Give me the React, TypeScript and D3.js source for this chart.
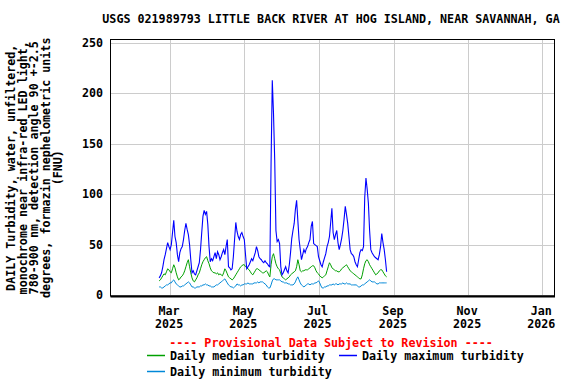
import * as d3 from "d3";

// daily values, first day 2025-02-20
const startDate = new Date(2025, 1, 20);

const maxTurbidity = [
  17, 19, 22, 28, 35, 40, 46, 52, 48, 45, 50, 62, 74, 58, 52, 40, 33, 42, 46, 48,
  55, 64, 71, 65, 60, 50, 35, 22, 24, 21, 20, 24, 28, 32, 45, 62, 78, 84, 80, 83,
  70, 48, 33, 36, 34, 38, 42, 36, 43, 40, 35, 38, 42, 45, 40, 48, 55, 28, 27, 25,
  26, 38, 55, 72, 63, 58, 55, 60, 62, 58, 55, 40, 26, 28, 30, 33, 36, 34, 38, 42,
  48, 44, 38, 36, 35, 33, 32, 34, 32, 31, 29, 28, 131, 213, 180, 134, 64, 53, 55, 51,
  28, 20, 22, 25, 28, 24, 22, 30, 42, 56, 64, 71, 85, 94, 74, 55, 45, 35, 40, 45,
  42, 46, 48, 52, 55, 68, 73, 51, 50, 49, 48, 38, 34, 30, 28, 33, 37, 41, 48, 52,
  58, 72, 86, 62, 55, 60, 64, 52, 45, 50, 56, 64, 75, 88, 80, 71, 58, 45, 41, 40,
  38, 33, 30, 28, 35, 42, 45, 44, 48, 97, 116, 105, 91, 64, 45, 42, 40, 38, 37, 36,
  35, 40, 48, 61, 52, 45, 35, 23,
];

const medianTurbidity = [
  14, 15, 17, 19, 21, 20, 23, 26, 25, 23, 22, 26, 30, 27, 22, 18, 15, 16, 18, 19,
  21, 24, 28, 32, 35, 28, 22, 17, 14, 13, 15, 17, 20, 22, 26, 30, 33, 35, 37, 38,
  34, 31, 27, 24, 23, 22, 22, 21, 22, 20, 21, 20, 19, 22, 26, 24, 21, 18, 17, 16,
  15, 16, 18, 20, 22, 24, 26, 28, 29, 30, 30, 28, 27, 26, 25, 23, 21, 20, 22, 24,
  26, 26, 25, 24, 23, 22, 22, 23, 24, 23, 20, 18, 30, 38, 41, 36, 31, 28, 26, 25,
  21, 18, 17, 16, 15, 16, 17, 18, 20, 21, 22, 23, 24, 28, 35, 30, 24, 23, 24, 24,
  25, 25, 25, 26, 27, 28, 29, 29, 27, 24, 22, 21, 19, 18, 17, 18, 19, 20, 24, 28,
  32, 30, 27, 26, 25, 24, 24, 23, 23, 24, 26, 27, 28, 29, 30, 28, 26, 24, 23, 22,
  21, 20, 19, 18, 17, 16, 16, 20, 26, 31, 34, 35, 33, 30, 28, 26, 24, 22, 20, 21,
  22, 24, 25, 25, 23, 21, 19, 18,
];

const minTurbidity = [
  8, 8, 7, 7, 8, 9, 10, 10, 11, 12, 12, 14, 15, 13, 11, 10, 9, 8, 8, 9,
  9, 10, 11, 12, 13, 12, 10, 8, 8, 7, 7, 8, 8, 8, 9, 9, 10, 10, 11, 10,
  10, 9, 9, 8, 8, 8, 9, 10, 10, 11, 12, 13, 14, 15, 16, 14, 12, 10, 9, 8,
  8, 7, 8, 9, 11, 10, 10, 9, 10, 10, 11, 11, 11, 12, 11, 11, 11, 11, 12, 12,
  12, 13, 12, 13, 13, 13, 12, 11, 10, 8, 7, 7, 10, 14, 16, 16, 15, 15, 15, 15,
  14, 13, 13, 12, 12, 12, 11, 11, 10, 10, 10, 11, 13, 16, 18, 15, 12, 10, 9, 8,
  9, 10, 11, 11, 10, 11, 11, 11, 12, 12, 13, 14, 12, 9, 7, 7, 8, 8, 9, 9,
  10, 10, 10, 11, 10, 11, 11, 10, 11, 11, 11, 12, 11, 11, 12, 11, 11, 11, 10, 10,
  10, 10, 10, 9, 8, 8, 9, 10, 10, 11, 12, 13, 14, 15, 14, 13, 13, 13, 12, 11,
  11, 12, 12, 12, 12, 12, 12, 12,
];

const yTicks = [0, 50, 100, 150, 200, 250];
const monthTicks = [
  new Date(2025, 2, 1), new Date(2025, 4, 1), new Date(2025, 6, 1),
  new Date(2025, 8, 1), new Date(2025, 10, 1), new Date(2026, 0, 1),
];
const yTitleLines = [
  "DAILY Turbidity, water, unfiltered,",
  "monochrome near infra-red LED light,",
  "780-900 nm, detection angle 90 +-2.5",
  "degrees, formazin nephelometric units",
  "(FNU)",
];
const title = "USGS 021989793 LITTLE BACK RIVER AT HOG ISLAND, NEAR SAVANNAH, GA";

const font = "'DejaVu Sans Mono', monospace";
const fs = 11.7;
const colors = { median: "#00a000", max: "#0000ff", min: "#0088d8" };

export default function App() {
  const width = 576;
  const height = 384;
  const plot = { left: 110.5, right: 554.5, top: 39.5, bottom: 296 };

  const x = d3.scaleTime()
    .domain([new Date(2025, 0, 11), new Date(2026, 0, 11)])
    .range([plot.left, plot.right]);
  const y = d3.scaleLinear().domain([0, 250]).range([295, 43]);

  const days = maxTurbidity.map((_, i) => d3.timeDay.offset(startDate, i));
  const line = d3.line<number>()
    .x((_, i) => x(days[i]))
    .y(d => y(d));

  const fmtMonth = d3.timeFormat("%b");
  const fmtYear = d3.timeFormat("%Y");
  const midY = (plot.top + plot.bottom) / 2;

  const legend = [
    { label: "Daily median turbidity", color: colors.median, lx: 147, ly: 356 },
    { label: "Daily maximum turbidity", color: colors.max, lx: 339, ly: 356 },
    { label: "Daily minimum turbidity", color: colors.min, lx: 147, ly: 372 },
  ];

  return (
    <svg width={width} height={height} style={{ position: "absolute", left: 0, top: 0, background: "#fff" }}
      fontFamily={font} fontWeight="bold">
      <text x={331} y={23} textAnchor="middle" fontSize={fs}>{title}</text>

      {yTicks.map(t => (
        <g key={t}>
          <line x1={plot.left} x2={plot.right} y1={Math.round(y(t)) + 0.5} y2={Math.round(y(t)) + 0.5}
            stroke="#cccccc" />
          <text x={103} y={y(t) + 4} textAnchor="end" fontSize={fs}>{t}</text>
        </g>
      ))}
      {monthTicks.map(m => (
        <g key={m.getTime()}>
          <line x1={Math.round(x(m)) + 0.5} x2={Math.round(x(m)) + 0.5} y1={plot.top} y2={plot.bottom}
            stroke="#cccccc" />
          <text x={x(m) - 1} y={315} textAnchor="middle" fontSize={fs}>{fmtMonth(m)}</text>
          <text x={x(m) - 1} y={328} textAnchor="middle" fontSize={fs}>{fmtYear(m)}</text>
        </g>
      ))}

      <path d={line(minTurbidity) ?? ""} fill="none" stroke={colors.min} strokeWidth={1} />
      <path d={line(medianTurbidity) ?? ""} fill="none" stroke={colors.median} strokeWidth={1} />
      <path d={line(maxTurbidity) ?? ""} fill="none" stroke={colors.max} strokeWidth={1.1} />

      <rect x={plot.left} y={plot.top} width={plot.right - plot.left} height={plot.bottom - plot.top}
        fill="none" stroke="#000" />
      <line x1={plot.left} x2={plot.right + 0.5} y1={plot.bottom + 0.5} y2={plot.bottom + 0.5} stroke="#000" strokeWidth={2} />

      <g transform={`translate(0,${midY}) rotate(-90)`}>
        {yTitleLines.map((l, i) => (
          <text key={i} x={0} y={15 + i * 11.7} textAnchor="middle" fontSize={fs}>{l}</text>
        ))}
      </g>

      <text x={331} y={347} textAnchor="middle" fontSize={fs} fill="#ff0000">
        ---- Provisional Data Subject to Revision ----
      </text>

      {legend.map(d => (
        <g key={d.label}>
          <line x1={d.lx} x2={d.lx + 18} y1={d.ly - 0.5} y2={d.ly - 0.5}
            stroke={d.color} strokeWidth={1.5} />
          <text x={d.lx + 23} y={d.ly + 4} fontSize={fs}>{d.label}</text>
        </g>
      ))}
    </svg>
  );
}
